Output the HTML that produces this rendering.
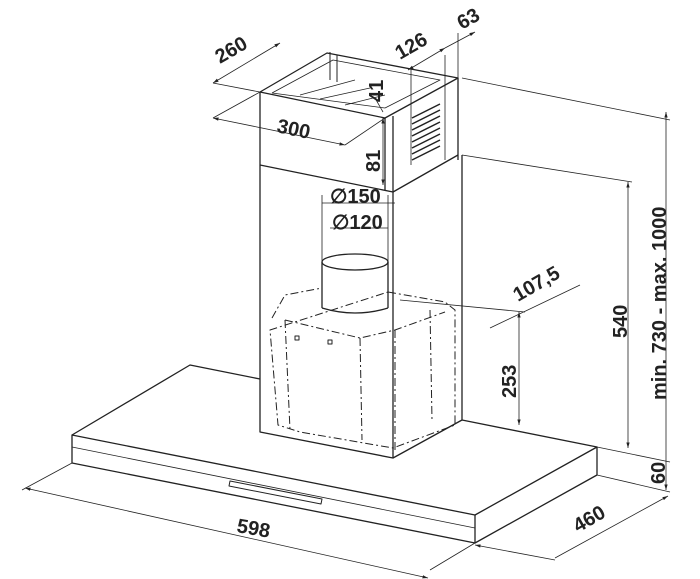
<!DOCTYPE html>
<html><head><meta charset="utf-8"><style>
html,body{margin:0;padding:0;background:#fff;}
svg{display:block;}
text{font-family:"Liberation Sans Narrow","Liberation Sans",Arial,sans-serif;font-weight:bold;fill:#222;}
</style></head><body>
<svg width="700" height="579" viewBox="0 0 700 579" xmlns="http://www.w3.org/2000/svg">
<defs>
<marker id="a" viewBox="0 0 10 10" refX="10" refY="5" markerWidth="7" markerHeight="7" orient="auto-start-reverse"><path d="M0,2 L10,5 L0,8z" fill="#222"/></marker>
</defs>
<g fill="none" stroke="#222" stroke-width="1.3" stroke-linejoin="round">
<path d="M72,435 L190,365 L260,379"/>
<path d="M462,420 L597,447 L475,515 L72,435 L72,463 L475,543 L597,475 L597,447"/>
<path d="M475,515 L475,543"/>
<path d="M72,447 L475,528" stroke-width="0.8"/>
<path d="M230,481 L322,499 L321,504 L229,486 Z" stroke-width="1"/>
<path d="M260,165 L260,432 L393,458 L462,420 L462,155"/>
<path d="M393,192 L393,458"/>
<path d="M260,165 L393,192 L458,155"/>
<path d="M260,92 L260,165"/>
<path d="M260,92 L327,53 L458,78 L385,118 L260,92"/>
<path d="M272,93 L333,60 L440,80 L385,108 L272,93" stroke-width="0.8"/>
<path d="M385,118 L385,190 M393,116 L393,192 M458,78 L458,160"/>
<path d="M330,52 L330,80 M337,55 L337,82" stroke-width="1"/>
<path d="M300,95 L355,80 M320,99 L370,88 M345,105 L385,95" stroke-width="0.7"/>
<g stroke-width="1.5">
<path d="M412,118 L440,104 M412,124 L440,110 M412,130 L440,116 M412,136 L440,122 M412,142 L440,128 M412,148 L440,134 M412,154 L440,140 M412,160 L440,146"/>
</g>
<ellipse cx="355" cy="262" rx="33" ry="8"/>
<path d="M322,262 L322,308 M388,262 L388,308"/>
<path d="M322,308 Q355,318 388,308"/>
<g stroke-dasharray="8,3,2,3" stroke-width="1">
<path d="M272,318 L285,295 L322,288 M388,292 L445,302 L455,310 L455,425 L393,448 L300,432 L278,425 L270,330 Z"/>
<path d="M285,320 L360,338 L395,330 L445,312"/>
<path d="M360,338 L362,440 M395,330 L395,450 M285,320 L290,430 M430,310 L432,420"/>
</g>
<rect x="295" y="336" width="4" height="4" stroke-width="1"/>
<rect x="328" y="340" width="4" height="4" stroke-width="1"/>
<g stroke-width="0.8">
<path d="M213,83 L280,43" marker-start="url(#a)" marker-end="url(#a)"/>
<path d="M213,118 L345,145" marker-start="url(#a)" marker-end="url(#a)"/>
<path d="M345,145 L385,118"/>
<path d="M213,118 L260,92 M213,83 L260,92"/>
<path d="M408,70 L445,48" marker-start="url(#a)" marker-end="url(#a)"/>
<path d="M445,48 L475,32" marker-end="url(#a)"/>
<path d="M411,67 L411,165 M445,55 L445,160 M458,33 L458,78"/>
<path d="M383,118 L383,185" marker-start="url(#a)" marker-end="url(#a)"/>
<path d="M375,98 L383,112" />
<path d="M322,195 L322,262 M388,195 L388,262"/>
<path d="M322,203 L395,203 M330,228 L388,228"/>
<path d="M462,78 L670,120 M462,155 L632,182"/>
<path d="M666,112 L666,490" marker-start="url(#a)" marker-end="url(#a)"/>
<path d="M628,182 L628,448" marker-start="url(#a)" marker-end="url(#a)"/>
<path d="M597,447 L670,462 M597,475 L670,492"/>
<path d="M519,312 L519,425" marker-start="url(#a)" marker-end="url(#a)"/>
<path d="M400,300 L525,312 M490,328 L580,285"/>
<path d="M72,463 L22,490 M475,543 L430,570"/>
<path d="M25,488 L428,578" marker-start="url(#a)" marker-end="url(#a)"/>
<path d="M475,545 L555,560 M555,558 L668,496" marker-start="url(#a)" marker-end="url(#a)"/>
</g>
</g>
<g font-size="20">
<text transform="translate(220,64) rotate(-30)">260</text>
<text transform="translate(276,132) rotate(12)">300</text>
<text transform="translate(400,60) rotate(-30)">126</text>
<text transform="translate(462,30) rotate(-30)">63</text>
<text transform="translate(383,102) rotate(-90)">41</text>
<text transform="translate(380,172) rotate(-90)">81</text>
<text x="330" y="203">∅150</text>
<text x="332" y="229">∅120</text>
<text transform="translate(518,302) rotate(-30)">107,5</text>
<text transform="translate(516,398) rotate(-90)">253</text>
<text transform="translate(627,338) rotate(-90)">540</text>
<text transform="translate(666,400) rotate(-90)">min. 730 - max. 1000</text>
<text transform="translate(665,484) rotate(-90)">60</text>
<text transform="translate(236,532) rotate(10)">598</text>
<text transform="translate(578,533) rotate(-30)">460</text>
</g>
</svg>
</body></html>
